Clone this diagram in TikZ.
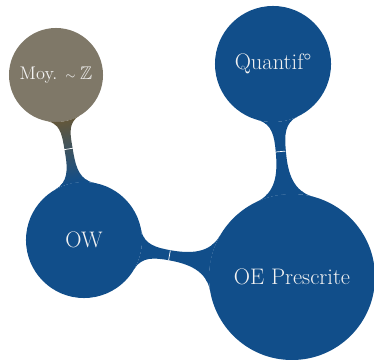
\documentclass[tikz,border=0pt]{standalone}
\usepackage{amssymb}
\usetikzlibrary{mindmap,calc}
\definecolor{oeblue}{HTML}{114E8A}
\definecolor{moygray}{HTML}{7F7868}
\definecolor{moybar}{HTML}{62573C}
\definecolor{labelwhite}{HTML}{F2F2F2}

\tikzset{
  bubble/.style={concept, fill=oeblue, draw=none, text=labelwhite, text width={}, inner sep=0pt, font=\fontsize{16}{19}\selectfont},
  seam/.style={draw=white, line width=0.5pt},
}

\begin{document}
\begin{tikzpicture}[mindmap, concept color=oeblue, x=0.025cm, y=-0.025cm]
    \useasboundingbox (0,0) rectangle (374,360);

    \node[bubble, minimum size=2.9cm] (ow) at (84,240) {OW};
    \node[bubble, minimum size=4.15cm] (oe) at (292,277) {OE Prescrite};
    \node[bubble, minimum size=2.9cm] (quant) at (273,64) {Quantif\textdegree};
    \node[bubble, concept color=moybar, fill=moygray, minimum size=2.35cm, font=\fontsize{13}{15}\selectfont] (moy) at (56,75) {Moy. ${\scriptstyle\sim}\;\mathbb{Z}$};

    \path (ow) to[circle connection bar switch color=from (oeblue) to (moybar)] (moy);
    \path (ow) to[circle connection bar switch color=from (oeblue) to (oeblue)] (oe);
    \path (oe) to[circle connection bar switch color=from (oeblue) to (oeblue)] (quant);

    % thin seams where the bar colours meet
    \coordinate (s1) at ($(ow)!0.552!(moy)$);
    \coordinate (s2) at ($(ow)!0.411!(oe)$);
    \coordinate (s3) at ($(oe)!0.589!(quant)$);
    \draw[seam] ($(s1)!0.12cm!90:(moy)$) -- ($(s1)!0.12cm!-90:(moy)$);
    \draw[seam] ($(s2)!0.12cm!90:(oe)$) -- ($(s2)!0.12cm!-90:(oe)$);
    \draw[seam] ($(s3)!0.12cm!90:(quant)$) -- ($(s3)!0.12cm!-90:(quant)$);
\end{tikzpicture}
\end{document}
